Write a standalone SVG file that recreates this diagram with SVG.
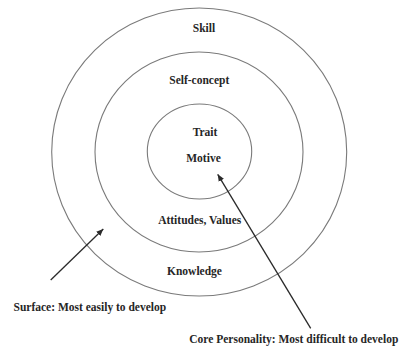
<svg xmlns="http://www.w3.org/2000/svg" width="404" height="350" viewBox="0 0 404 350">
<style>
.ring{fill:none;stroke:#7a7a7a;stroke-width:1.1}
.lbl{font-family:"Liberation Serif","Times New Roman",serif;font-weight:bold;font-size:11.5px;fill:#262626}
.c{text-anchor:middle}
.arr{stroke:#2a2a2a;stroke-width:1.3;fill:none}
</style>
<defs>
<marker id="ah" markerUnits="userSpaceOnUse" markerWidth="8" markerHeight="8" refX="7" refY="4" orient="auto">
<path d="M0,1 L7,4 L0,7 Z" fill="#2a2a2a"/>
</marker>
</defs>
<rect width="404" height="350" fill="#fff"/>
<g id="outer">
<ellipse class="ring" cx="199.2" cy="152" rx="147.5" ry="144"/>
<text class="lbl c" x="204" y="32">Skill</text>
<text class="lbl c" x="194.5" y="274.5">Knowledge</text>
</g>
<g id="middle">
<ellipse class="ring" cx="199" cy="152" rx="104" ry="100"/>
<text class="lbl c" x="199.3" y="83.5">Self-concept</text>
<text class="lbl c" x="199.7" y="223.5">Attitudes, Values</text>
</g>
<g id="inner">
<ellipse class="ring" cx="199.5" cy="151.5" rx="52.2" ry="47.5"/>
<text class="lbl c" x="205" y="135.7">Trait</text>
<text class="lbl c" x="203.5" y="162.3">Motive</text>
</g>
<g id="connectors">
<line class="arr" x1="50.7" y1="280" x2="103.3" y2="229" marker-end="url(#ah)"/>
<line class="arr" x1="310.7" y1="328.3" x2="217.7" y2="174.3" marker-end="url(#ah)"/>
</g>
<g id="surface-label">
<text class="lbl" x="13.5" y="311">Surface: Most easily to develop</text>
</g>
<g id="core-label">
<text class="lbl" x="189.3" y="342.5">Core Personality: Most difficult to develop</text>
</g>
</svg>
